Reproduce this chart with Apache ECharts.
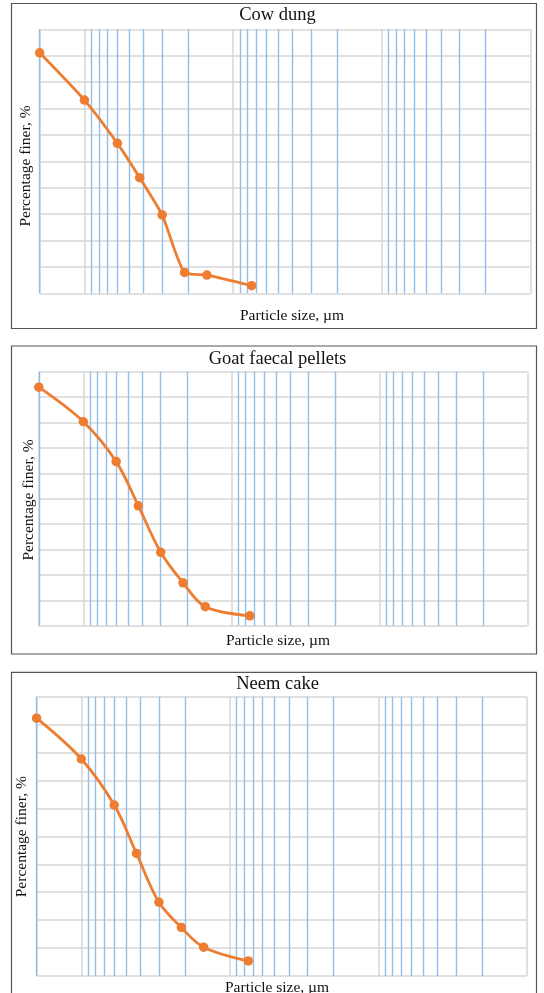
<!DOCTYPE html>
<html>
<head>
<meta charset="utf-8">
<script src="https://cdn.jsdelivr.net/npm/echarts@6/dist/echarts.min.js"></script>
<style>html,body{margin:0;padding:0;background:#fff}#c{width:544px;height:993px}</style>
</head>
<body>
<div id="c"></div>
<script>
// ---- data ----
const panelTitles = ['Cow dung', 'Goat faecal pellets', 'Neem cake'];
const particleSizes = [2000, 1000, 600, 425, 300, 212, 150, 75];   // µm
const cowDung = [91.1, 73.2, 56.8, 43.8, 29.7, 7.9, 6.9, 2.9];
const goatPellets = [93.9, 80.3, 64.6, 47.2, 28.9, 16.9, 7.5, 3.9];
const neemCake = [92.3, 77.7, 61.2, 43.9, 26.4, 17.4, 10.3, 5.4];
const minorGridValues = [2,3,4,5,6,7,8,9,20,30,40,50,60,70,80,90,200,300,400,500,600,700,800,900,2000];
const xLabel = 'Particle size, µm';
const yLabel = 'Percentage finer, %';
const seriesList = [cowDung, goatPellets, neemCake];
const smoothness = [0.2, 0.35, 0.35];

// ---- layout ----
const grids = [
  {left: 39.7, top: 29.3, width: 490.6, height: 264},
  {left: 38.8, top: 371.7, width: 488.5, height: 254},
  {left: 36.6, top: 696.7, width: 490.2, height: 279.3}
];
const boxes = [
  {y: 3.5, h: 325},
  {y: 346, h: 308},
  {y: 672.3, h: 340}
];
const titleY = [15, 359.3, 684.3];
const xLabelPos = [[292, 315.7], [278, 641], [277, 987.7]];
const yLabelPos = [[26, 166], [28.5, 500], [22, 836.7]];

const ORANGE = '#ED7D31';
const BLUE = '#92BEE8';
const GRAY = '#D6D6D6';
const SERIF = '"Liberation Serif", "Times New Roman", serif';

const chart = echarts.init(document.getElementById('c'), null, {renderer: 'canvas'});

const option = {
  animation: false,
  backgroundColor: '#fff',
  grid: grids.map(g => ({left: g.left, top: g.top, width: g.width, height: g.height, containLabel: false})),
  xAxis: grids.map((g, i) => ({
    gridIndex: i, type: 'log', logBase: 10, min: 1, max: 2000, inverse: true,
    axisLine: {show: false}, axisTick: {show: false}, axisLabel: {show: false},
    splitLine: {show: true, lineStyle: {color: GRAY, width: 1.5}}
  })),
  yAxis: grids.map((g, i) => ({
    gridIndex: i, type: 'value', min: 0, max: 100, interval: 10,
    axisLine: {show: false}, axisTick: {show: false}, axisLabel: {show: false},
    splitLine: {show: true, lineStyle: {color: GRAY, width: 1.5}}
  })),
  series: [],
  graphic: []
};

seriesList.forEach((vals, i) => {
  option.series.push({
    type: 'line', xAxisIndex: i, yAxisIndex: i, data: [], z: 1, silent: true,
    markLine: {
      silent: true, symbol: ['none', 'none'], z: 1,
      label: {show: false},
      lineStyle: {color: BLUE, width: 1.4, type: 'solid'},
      emphasis: {disabled: true},
      data: minorGridValues.map(v => ({xAxis: v}))
    }
  });
  option.series.push({
    type: 'line', xAxisIndex: i, yAxisIndex: i, z: 5,
    data: particleSizes.map((s, k) => [s, vals[k]]),
    smooth: smoothness[i],
    symbol: 'circle', symbolSize: 9.5,
    lineStyle: {color: ORANGE, width: 2.8},
    itemStyle: {color: ORANGE}
  });
  option.graphic.push({
    type: 'rect', silent: true, z: 0,
    shape: {x: 11.5, y: boxes[i].y, width: 525, height: boxes[i].h},
    style: {fill: 'none', stroke: '#555', lineWidth: 1.2}
  });
  option.graphic.push({
    type: 'text', silent: true, x: 277.5, y: titleY[i],
    style: {text: panelTitles[i], font: '18.5px ' + SERIF, fill: '#111', align: 'center', verticalAlign: 'middle'}
  });
  option.graphic.push({
    type: 'text', silent: true, x: xLabelPos[i][0], y: xLabelPos[i][1],
    style: {text: xLabel, font: '15.5px ' + SERIF, fill: '#111', align: 'center', verticalAlign: 'middle'}
  });
  option.graphic.push({
    type: 'text', silent: true, x: yLabelPos[i][0], y: yLabelPos[i][1], rotation: Math.PI / 2,
    style: {text: yLabel, font: '15.5px ' + SERIF, fill: '#111', align: 'center', verticalAlign: 'middle'}
  });
});

chart.setOption(option);
</script>
</body>
</html>
